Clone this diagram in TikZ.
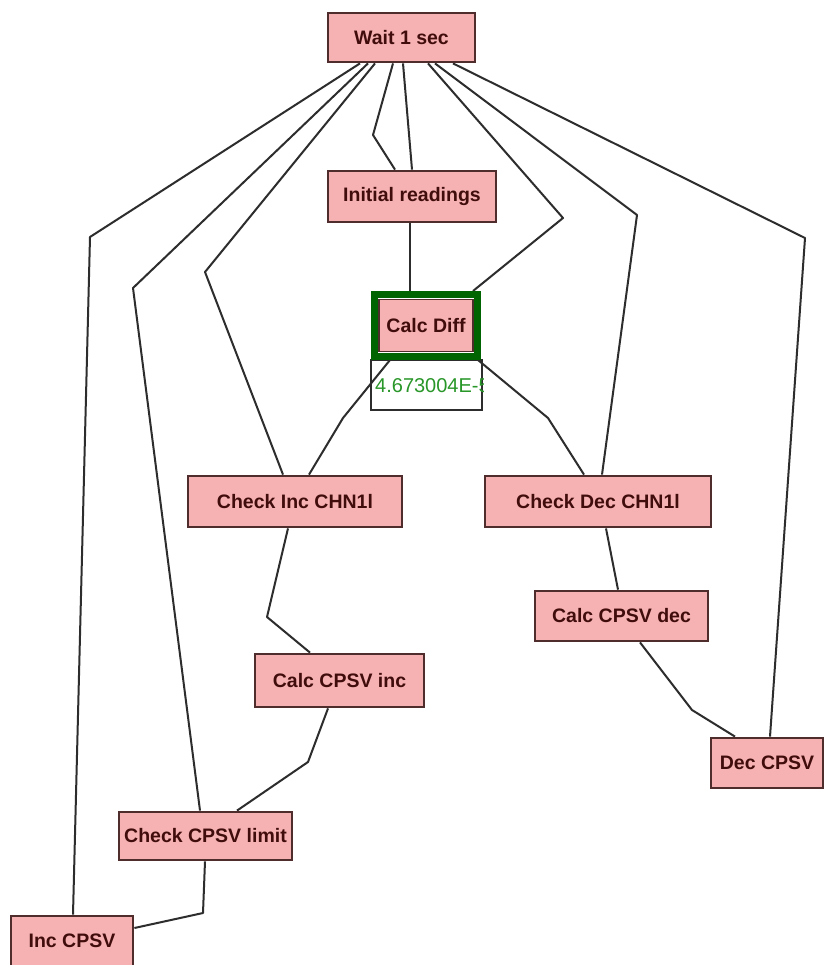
\documentclass[tikz,border=0pt]{standalone}
\usepackage{fontspec}
\setmainfont{Liberation Sans}
\pgfdeclarelayer{bg}
\pgfdeclarelayer{edges}
\pgfsetlayers{bg,edges,main}
\definecolor{boxfill}{RGB}{246,178,178}
\definecolor{boxline}{RGB}{80,45,45}
\definecolor{boxtext}{RGB}{65,12,12}
\definecolor{edgecol}{RGB}{45,45,45}
\definecolor{framecol}{RGB}{0,100,0}
\definecolor{valcol}{RGB}{40,150,40}
\begin{document}
\begin{tikzpicture}[x=1pt,y=-1pt,
  stepbox/.style={draw=boxline, fill=boxfill, line width=2.8pt, text=boxtext,
    font=\fontsize{19.5}{20}\selectfont\bfseries, inner sep=0pt},
  conn/.style={draw=edgecol, line width=2pt, line join=round}]
\begin{pgfonlayer}{bg}
\fill[white] (0,0) rectangle (827,965);
\node[draw=edgecol, fill=white, line width=2pt, minimum width=111pt, minimum height=50pt, inner sep=0pt] (valbox) at (426.5,385) {};
\begin{scope}
\clip (valbox.north west) rectangle (valbox.south east);
\node[anchor=west, text=valcol, font=\fontsize{20}{20}\selectfont, inner sep=0pt] (valtext) at (375,386) {4.673004E-5};
\end{scope}
\end{pgfonlayer}
\useasboundingbox (0,0) rectangle (827,965);

% nodes
\node[stepbox, minimum width=147pt, minimum height=49pt] (wait) at (401.5,37.5) {Wait 1 sec};
\node[stepbox, minimum width=168pt, minimum height=51pt] (init) at (412,196.5) {Initial readings};
\node[draw=framecol, line width=7pt, minimum width=103pt, minimum height=62pt, inner sep=0pt] (calcframe) at (426,325.5) {};
\node[stepbox, line width=1.5pt, minimum width=94pt, minimum height=52pt] (calcdiff) at (426,325.5) {Calc Diff};
\node[stepbox, minimum width=214pt, minimum height=51pt] (checkinc) at (295,501.5) {Check Inc CHN1l};
\node[stepbox, minimum width=226pt, minimum height=51pt] (checkdec) at (598,501.5) {Check Dec CHN1l};
\node[stepbox, minimum width=169pt, minimum height=53pt] (calcinc) at (339.5,680.5) {Calc CPSV inc};
\node[stepbox, minimum width=173pt, minimum height=50pt] (calcdec) at (621.5,616) {Calc CPSV dec};
\node[stepbox, minimum width=112pt, minimum height=50pt] (deccpsv) at (767,763) {Dec CPSV};
\node[stepbox, minimum width=173pt, minimum height=48pt] (checklim) at (205.5,836) {Check CPSV limit};
\node[stepbox, minimum width=122pt, minimum height=50pt] (inccpsv) at (72,941) {Inc CPSV};

% bend points
\coordinate (b1) at (90,237);
\coordinate (b2) at (133,288);
\coordinate (b3) at (205,272);
\coordinate (b4) at (373,135);
\coordinate (b5) at (563,218);
\coordinate (b6) at (637,215);
\coordinate (b7) at (805,238);
\coordinate (b8) at (343,418);
\coordinate (b9) at (548,418);
\coordinate (b10) at (267,617);
\coordinate (b11) at (308,762);
\coordinate (b12) at (692,710);
\coordinate (b13) at (203,913);

\begin{pgfonlayer}{edges}
\draw[conn] ([xshift=-41.5pt]wait.south) -- (b1) -- ([xshift=1pt]inccpsv.north);
\draw[conn] ([xshift=-33.5pt]wait.south) -- (b2) -- ([xshift=-5.5pt]checklim.north);
\draw[conn] ([xshift=-26.5pt]wait.south) -- (b3) -- ([xshift=-12pt]checkinc.north);
\draw[conn] ([xshift=-8.5pt]wait.south) -- (b4) -- ([xshift=-17pt]init.north);
\draw[conn] ([xshift=1.5pt]wait.south) -- (init.north);
\draw[conn] ([xshift=-2pt]init.south) -- ([xshift=-16pt]calcframe.north);
\draw[conn] ([xshift=26.5pt]wait.south) -- (b5) -- ([xshift=47pt]calcframe.north);
\draw[conn] ([xshift=33.5pt]wait.south) -- (b6) -- ([xshift=4pt]checkdec.north);
\draw[conn] ([xshift=51.5pt]wait.south) -- (b7) -- ([xshift=3pt]deccpsv.north);
\draw[conn] ([xshift=-36pt]calcframe.south) -- (b8) -- ([xshift=14pt]checkinc.north);
\draw[conn] ([xshift=52pt]calcframe.south) -- (b9) -- ([xshift=-14pt]checkdec.north);
\draw[conn] ([xshift=-7pt]checkinc.south) -- (b10) -- ([xshift=-29.5pt]calcinc.north);
\draw[conn] ([xshift=-11.5pt]calcinc.south) -- (b11) -- ([xshift=31.5pt]checklim.north);
\draw[conn] ([xshift=8pt]checkdec.south) -- ([xshift=-3.5pt]calcdec.north);
\draw[conn] ([xshift=18.5pt]calcdec.south) -- (b12) -- ([xshift=-32pt]deccpsv.north);
\draw[conn] ([xshift=-0.5pt]checklim.south) -- (b13) -- ([yshift=13pt]inccpsv.east);
\end{pgfonlayer}
\end{tikzpicture}
\end{document}
